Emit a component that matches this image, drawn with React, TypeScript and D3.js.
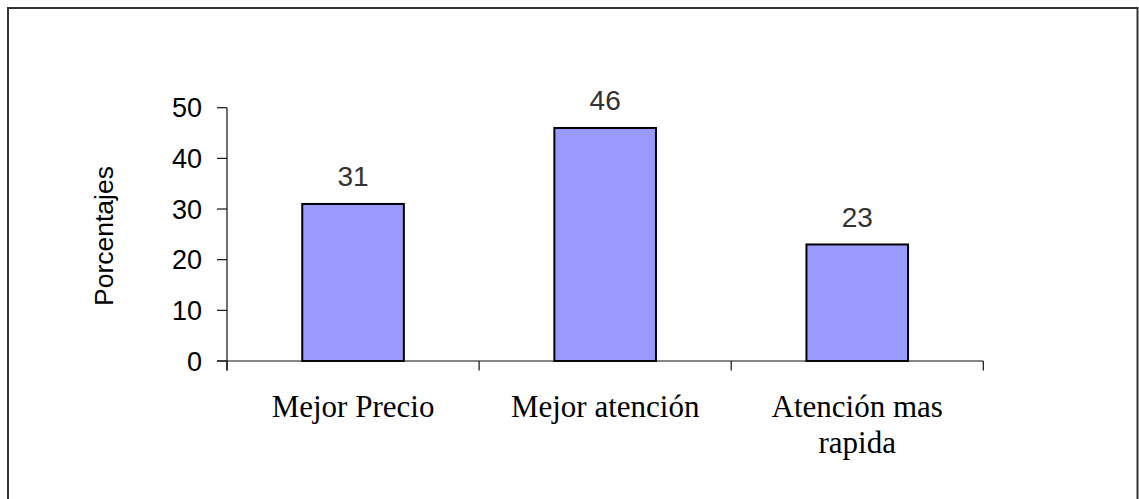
import React from "react";
import * as d3 from "d3";

const categories: string[][] = [["Mejor Precio"], ["Mejor atención"], ["Atención mas", "rapida"]];
const values: number[] = [31, 46, 23];
const yTicks: number[] = [0, 10, 20, 30, 40, 50];
const yTitle = "Porcentajes";

const W = 1139;
const H = 499;
const plot = { left: 227, right: 983.3, top: 107.7, bottom: 361 };

export default function App() {
  const x = d3
    .scaleBand<number>()
    .domain(values.map((_, i) => i))
    .range([plot.left, plot.right])
    .padding(0);
  const y = d3.scaleLinear().domain([0, 50]).range([plot.bottom, plot.top]);
  const barW = x.bandwidth() * 0.403;
  const boundaries = [...values.map((_, i) => x(i) as number), plot.right];

  return (
    <svg
      width={W}
      height={H}
      style={{ position: "absolute", left: 0, top: 0, background: "#fff" }}
    >
      <rect x={8} y={8} width={1129.5} height={520} fill="#fff" stroke="#333" strokeWidth={2} />

      {/* y axis */}
      <line x1={plot.left} x2={plot.left} y1={plot.top} y2={plot.bottom + 9.5} stroke="#111" strokeWidth={1.2} />
      {yTicks.map((t) => (
        <g key={t}>
          <line x1={plot.left - 10} x2={plot.left} y1={y(t)} y2={y(t)} stroke="#111" strokeWidth={1.2} />
          <text
            x={plot.left - 25}
            y={y(t)}
            dy="0.36em"
            textAnchor="end"
            fontFamily="Liberation Sans, Arial, sans-serif"
            fontSize={27}
            fill="#000"
          >
            {t}
          </text>
        </g>
      ))}
      <text
        transform={`translate(113, 236) rotate(-90)`}
        textAnchor="middle"
        fontFamily="Liberation Sans, Arial, sans-serif"
        fontSize={26.5}
        fill="#000"
      >
        {yTitle}
      </text>

      {/* bars */}
      {values.map((v, i) => {
        const cx = (x(i) as number) + x.bandwidth() / 2;
        return (
          <g key={i}>
            <rect
              x={cx - barW / 2}
              y={y(v)}
              width={barW}
              height={y(0) - y(v)}
              fill="#9999FF"
              stroke="#000"
              strokeWidth={2}
            />
            <text
              x={cx}
              y={y(v) - 17.5}
              textAnchor="middle"
              fontFamily="Liberation Sans, Arial, sans-serif"
              fontSize={28}
              fill="#333"
            >
              {v}
            </text>
          </g>
        );
      })}

      {/* x axis */}
      <line x1={plot.left - 10} x2={plot.right} y1={plot.bottom} y2={plot.bottom} stroke="#111" strokeWidth={1.2} />
      {boundaries.map((bx, i) => (
        <line key={i} x1={bx} x2={bx} y1={plot.bottom} y2={plot.bottom + 9.5} stroke="#111" strokeWidth={1.2} />
      ))}
      {categories.map((lines, i) => {
        const cx = (x(i) as number) + x.bandwidth() / 2;
        return (
          <text
            key={i}
            textAnchor="middle"
            fontFamily="Liberation Serif, Times New Roman, serif"
            fontSize={31}
            fill="#000"
          >
            {lines.map((ln, j) => (
              <tspan key={j} x={cx} y={416.7 + j * 36.7}>
                {ln}
              </tspan>
            ))}
          </text>
        );
      })}
    </svg>
  );
}
